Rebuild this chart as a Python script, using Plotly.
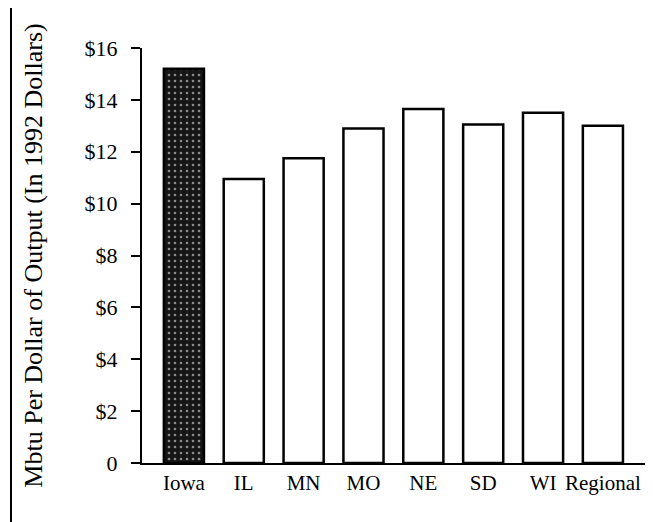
import plotly.graph_objects as go

categories = ["Iowa", "IL", "MN", "MO", "NE", "SD", "WI", "Regional"]
values = [15.2, 10.95, 11.75, 12.9, 13.65, 13.05, 13.5, 13.0]
ytick_vals = [0, 2, 4, 6, 8, 10, 12, 14, 16]
ytick_text = ["0", "$2", "$4", "$6", "$8", "$10", "$12", "$14", "$16"]

highlight = "Iowa"
fill_colors = ["#161616" if c == highlight else "white" for c in categories]
pattern_shapes = ["." if c == highlight else "" for c in categories]

FONT = "Liberation Serif, Times New Roman, serif"

fig = go.Figure()
fig.add_trace(go.Bar(
    x=list(range(len(categories))),
    y=values,
    width=0.67,
    marker=dict(
        color=fill_colors,
        line=dict(color="black", width=2.5),
        pattern=dict(shape=pattern_shapes, fgcolor="#6e6e6e",
                     size=6, solidity=0.15, fillmode="overlay"),
    ),
    showlegend=False,
    hoverinfo="x+y",
))

fig.update_layout(
    width=653, height=522,
    margin=dict(l=134, r=15, t=40, b=67),
    paper_bgcolor="white", plot_bgcolor="white",
    font=dict(family=FONT, size=22, color="black"),
    bargap=0.3,
)

fig.update_xaxes(
    range=[-0.70, 7.72],
    tickmode="array",
    tickvals=list(range(len(categories))),
    ticktext=categories,
    showline=True, linecolor="black", linewidth=2,
    ticks="", showgrid=False, zeroline=False,
    ticklabelstandoff=0,
    tickfont=dict(size=21),
    automargin=False,
)

fig.update_yaxes(
    range=[0, 16],
    tickmode="array",
    tickvals=ytick_vals,
    ticktext=ytick_text,
    showline=True, linecolor="black", linewidth=2,
    ticks="outside", ticklen=9, tickwidth=2, tickcolor="black",
    showgrid=False, zeroline=False,
    ticklabelstandoff=9,
    tickfont=dict(size=22),
    automargin=False,
    title=dict(text="Mbtu Per Dollar of Output (In 1992 Dollars)",
               font=dict(size=26), standoff=34),
)

# left frame line of the scanned page
fig.add_shape(type="line", xref="paper", yref="paper",
              x0=(3 - 134) / 504, x1=(3 - 134) / 504,
              y0=1.1, y1=(455 - 520) / 415,
              line=dict(color="black", width=2))

fig.write_html("out.html")
